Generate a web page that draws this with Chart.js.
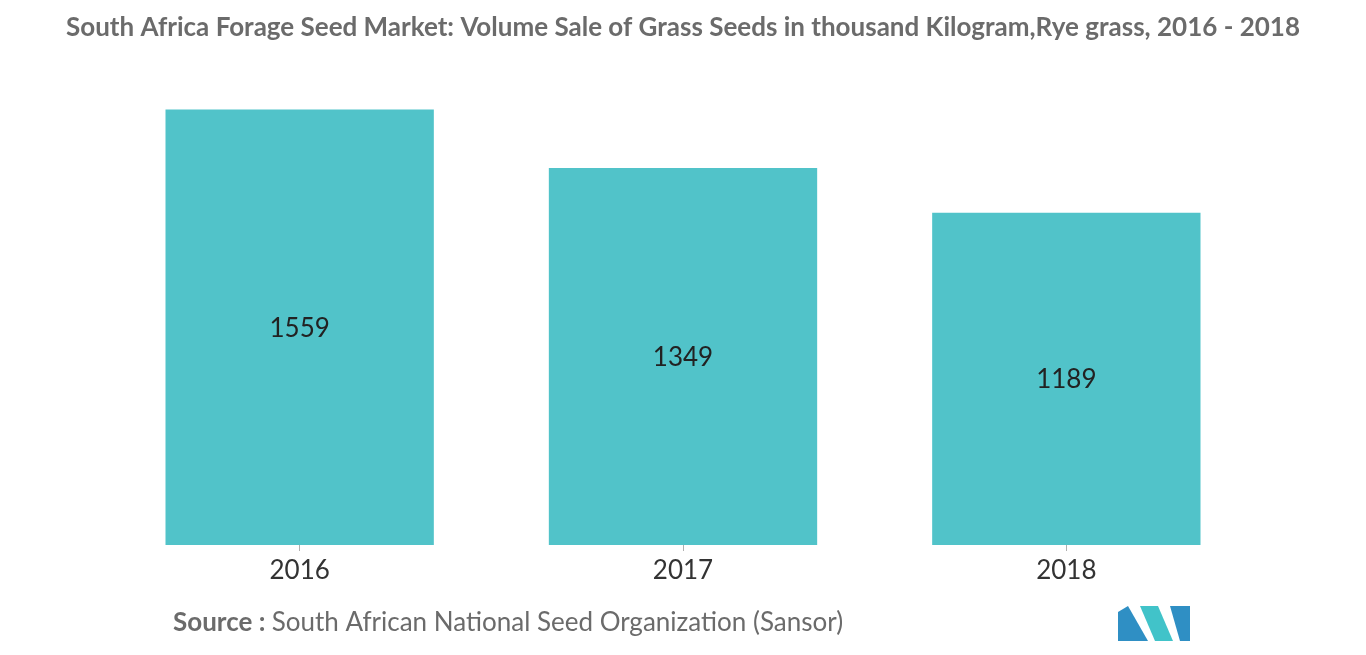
<!DOCTYPE html>
<html>
<head>
<meta charset="utf-8">
<script src="https://cdn.jsdelivr.net/npm/chart.js@4"></script>
<style>
  html, body { margin: 0; padding: 0; background: #fff; }
  #wrap { width: 1366px; height: 655px; position: relative; }
</style>
</head>
<body>
<div id="wrap"><canvas id="seedChart" width="1366" height="655"></canvas></div>
<script>
// --- chart data ---
const years = ["2016", "2017", "2018"];
const volumes = [1559, 1349, 1189];

const TITLE = "South Africa Forage Seed Market: Volume Sale of Grass Seeds in thousand Kilogram,Rye grass, 2016 - 2018";
const BAR_COLOR = "#51c3c9";

// draws title, bar values, source line and logo
const decorPlugin = {
  id: "decor",
  afterDatasetsDraw(chart) {
    const ctx = chart.ctx;
    const meta = chart.getDatasetMeta(0);
    ctx.save();
    ctx.fillStyle = "#222";
    ctx.font = "26px Lato";
    ctx.textAlign = "center";
    ctx.textBaseline = "middle";
    meta.data.forEach((bar, i) => {
      const mid = (bar.y + bar.base) / 2;
      ctx.fillText(String(volumes[i]), bar.x, mid + 1);
    });
    ctx.restore();
  },
  afterDraw(chart) {
    const ctx = chart.ctx;
    ctx.save();
    // title
    ctx.fillStyle = "#6b6b6b";
    ctx.font = "bold 26px Lato";
    ctx.textAlign = "center";
    ctx.textBaseline = "middle";
    ctx.fillText(TITLE, 683, 28);
    // source
    ctx.textAlign = "left";
    ctx.font = "bold 26px Lato";
    ctx.fillText("Source :", 173, 623);
    const w = ctx.measureText("Source : ").width;
    ctx.font = "26px Lato";
    ctx.fillText("South African National Seed Organization (Sansor)", 173 + w, 623);
    // logo
    const x0 = 1118, y0 = 606, h = 35;
    ctx.fillStyle = "#2f8fc4";
    ctx.beginPath();
    ctx.moveTo(x0, y0 + h); ctx.lineTo(x0, y0 + 6); ctx.lineTo(x0 + 10, y0);
    ctx.lineTo(x0 + 30, y0 + h); ctx.closePath(); ctx.fill();
    ctx.fillStyle = "#41c3c9";
    ctx.beginPath();
    ctx.moveTo(x0 + 22, y0); ctx.lineTo(x0 + 40, y0); ctx.lineTo(x0 + 55, y0 + h);
    ctx.lineTo(x0 + 37, y0 + h); ctx.closePath(); ctx.fill();
    ctx.fillStyle = "#2f8fc4";
    ctx.beginPath();
    ctx.moveTo(x0 + 52, y0); ctx.lineTo(x0 + 72, y0); ctx.lineTo(x0 + 72, y0 + h);
    ctx.lineTo(x0 + 62, y0 + h); ctx.closePath(); ctx.fill();
    ctx.restore();
  }
};

new Chart(document.getElementById("seedChart").getContext("2d"), {
  type: "bar",
  data: {
    labels: years,
    datasets: [{
      data: volumes,
      backgroundColor: BAR_COLOR,
      barPercentage: 0.7,
      categoryPercentage: 1.0,
    }],
  },
  options: {
    responsive: false,
    animation: false,
    layout: { padding: { left: 108, right: 108, top: 98, bottom: 50 } },
    plugins: { legend: { display: false }, tooltip: { enabled: false } },
    scales: {
      y: { display: false, min: 0, max: 1600 },
      x: {
        afterFit: (axis) => { axis.height = 60; },
        border: { display: false },
        grid: { display: true, drawOnChartArea: false, drawTicks: true, tickLength: 6, color: "#b0b0b0", offset: false },
        ticks: { color: "#333", font: { family: "Lato", size: 26 }, padding: 4 },
      },
    },
  },
  plugins: [decorPlugin],
});
</script>
</body>
</html>
